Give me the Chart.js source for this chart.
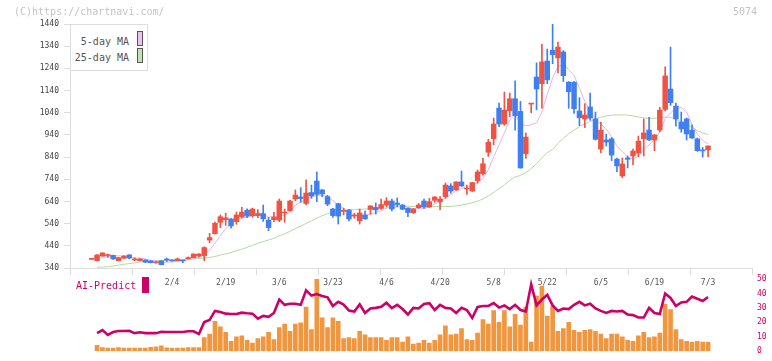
<!DOCTYPE html>
<html><head><meta charset="utf-8">
<script src="https://cdn.jsdelivr.net/npm/chart.js@4/dist/chart.umd.min.js"></script>
<style>
html,body{margin:0;padding:0;background:#fff;}
#wrap{position:relative;width:772px;height:361px;overflow:hidden;font-family:"DejaVu Sans Mono",monospace;}
canvas{position:absolute;left:0;top:0;}
.t{position:absolute;white-space:pre;line-height:1;}
</style></head><body>
<div id="wrap">
<canvas id="cLow" width="772" height="361"></canvas>
<canvas id="cTop" width="772" height="361"></canvas>
<div class="t" style="left:14px;top:7px;font-size:10px;color:#c4c4c4">(C)https://chartnavi.com/</div>
<div class="t" style="left:733px;top:7px;font-size:10px;color:#c4c4c4">5074</div>
<div style="position:absolute;left:70px;top:24px;width:76px;height:45px;border:1px solid #ddd;background:#fff;">
  <div class="t" style="right:18px;top:12px;font-size:10px;color:#555">5-day MA</div>
  <div style="position:absolute;left:66px;top:6px;width:4px;height:13px;background:#f0c0f0;border:1px solid #555"></div>
  <div class="t" style="right:18px;top:28px;font-size:10px;color:#555">25-day MA</div>
  <div style="position:absolute;left:66px;top:23px;width:4px;height:13px;background:#c2e2b2;border:1px solid #555"></div>
</div>
<div class="t" style="left:76px;top:281px;font-size:10px;color:#cc0066">AI-Predict</div>
<div style="position:absolute;left:142px;top:277px;width:7px;height:16px;background:#cc0066"></div>
</div>
<script>
// ---- data ----
const tickIndex  = [15,25,35,45,55,65,75,85,95,105,115];
const tickLabels = ['2/4','2/19','3/6','3/23','4/6','4/20','5/8','5/22','6/5','6/19','7/3'];

const OPEN = [379,373,394,396,397,373,384,399,376,373,
376,372,363,372,377,376,373,375,382,387,
394,396,466,495,546,558,561,549,571,601,
576,576,585,556,558,556,588,598,651,660,
631,680,732,692,662,606,630,595,601,574,
553,579,604,613,609,624,642,633,624,609,
589,612,642,615,645,639,662,710,692,728,
696,687,734,765,862,923,1061,989,1049,1103,
1046,855,1079,1201,1171,1273,1322,1287,1314,1178,
1178,1048,1012,1066,1012,876,917,922,831,755,
836,845,858,922,962,917,962,1055,1147,1070,
998,1012,962,922,872,873];
const HIGH = [380,400,409,403,398,388,396,400,387,382,
378,373,369,373,385,377,385,376,390,404,
405,436,496,547,579,587,563,592,614,607,
610,603,624,568,591,651,606,645,692,702,
737,714,773,693,668,609,632,609,605,586,
606,597,621,633,651,657,651,656,626,611,
608,631,651,654,662,662,723,720,730,777,
714,727,782,834,920,1016,1084,1133,1129,1184,
1091,949,1080,1265,1350,1327,1440,1359,1320,1180,
1180,1108,1081,1129,1043,998,944,928,836,836,
845,876,935,1012,1019,942,1064,1247,1336,1084,
1043,1016,985,926,883,891];
const LOW = [378,372,393,388,379,372,382,381,373,372,
364,363,362,354,369,371,372,364,380,386,
389,373,454,493,522,532,520,537,565,567,
569,567,550,508,549,549,546,596,643,636,
624,654,639,662,621,568,538,579,552,564,
538,560,583,583,604,616,597,616,603,571,
586,609,609,613,636,603,654,677,690,707,
672,685,722,759,843,896,977,983,1022,961,
790,834,1040,1053,1060,1171,1261,1220,1181,1060,
1037,982,973,1007,917,860,890,824,774,747,
791,806,842,845,915,869,954,1048,1073,979,
952,917,924,866,840,842];
const CLOSE = [379,399,408,398,381,387,394,385,380,381,
366,364,368,355,376,372,381,372,387,403,
403,432,477,542,571,566,530,579,592,574,
606,585,562,522,570,642,591,642,669,653,
678,665,672,674,628,576,574,598,561,578,
588,561,620,602,626,642,606,626,605,590,
606,624,615,639,660,651,714,687,728,710,
699,725,773,810,907,989,989,1052,1103,1027,
791,930,1079,1147,1269,1188,1302,1336,1207,1135,
1058,1018,1030,1016,920,962,908,849,800,809,
830,867,912,949,917,940,1052,1206,1085,1012,
967,944,926,869,868,890];
const MA5 = [null,386,389,391,393,395,394,389,385,385,
381,375,372,367,366,367,370,371,378,383,
389,399,420,452,485,518,537,558,567,568,
576,587,584,570,569,576,577,593,623,639,
647,661,667,668,663,643,625,610,587,577,
580,577,582,590,599,610,619,620,621,614,
607,610,608,615,629,638,656,670,688,698,
708,710,727,743,783,841,894,949,1008,1032,
992,981,986,995,1043,1123,1197,1248,1260,1234,
1208,1151,1090,1051,1008,989,967,931,888,866,
839,831,844,873,895,917,954,1013,1040,1059,
1064,1043,987,944,915,899];
const MA25 = [null,343,344,346,349,353,357,360,363,367,
370,372,373,374,375,375,376,377,379,382,
383,385,387,392,398,404,410,417,425,433,
442,451,459,466,474,485,494,505,518,529,
541,552,564,576,585,592,598,602,603,603,
604,606,607,608,610,611,612,615,618,619,
617,619,618,616,617,616,617,618,620,624,
628,634,641,651,665,681,698,715,735,751,
757,770,788,810,837,860,875,902,925,945,
962,977,990,1001,1012,1020,1026,1029,1030,1030,
1029,1026,1021,1017,1014,1015,1018,1020,1019,1010,
1000,988,973,959,949,942];
const VOLUME = [null,4,2.5,2.1,2.1,2.5,2.1,2.1,2.1,2.1,
2.1,2.7,3.1,3.8,2.3,2.1,2.1,2.1,2.5,2.5,
2.5,9.4,11.9,20.6,16.9,13.1,6.9,10,10.6,7.5,
5.6,8.8,10,13.1,8.1,16.3,18.8,13.8,18.8,19.6,
30.6,15,50,23.1,16.3,23.1,20.6,8.8,9.4,8.8,
13.8,11.3,9.4,9.4,9.4,7.5,9.4,9.4,6.3,10,
5,5.6,7.5,5.6,7.5,11.3,17.5,11.3,11.9,15.6,
8.1,7.5,12.5,21.9,18.8,28.1,20,28.1,16.9,25.6,
18.1,30.6,6.3,38.1,45,24.4,31.3,13.8,15.6,20,
14.4,13.1,14.4,15,13.8,11.9,8.8,11.9,11.9,10,
7.5,6.9,10.6,13.1,9.4,10,12.5,32.5,28.8,15,
8.1,6.9,6.3,6.9,6.3,6.3];
const AI_PREDICT = [null,12.5,14.6,11.3,13.3,14,14,14.2,12.5,13.1,
12.5,12.5,12.5,13.5,13.3,13.3,13.3,13.3,13.8,13.8,
11.9,20.2,21.7,27.9,27.1,26,25.8,25.8,26.7,26.3,
26,22.5,24.4,23.8,26.5,35.8,32.1,32.9,32.9,32.1,
42.1,38.5,39.6,38.3,37.3,31.3,34.2,32.3,28.1,27.5,
32.5,26.5,29.6,30,30.8,33.5,29.8,32.1,29.2,25.4,
30,29.6,32.7,33.3,28.5,32.1,30,29.6,26.5,30,
28.5,23,30.6,31.3,31.3,33.3,30.2,31.7,29.2,32.1,
28.5,27.5,46.3,31.7,35.8,39,31.7,27.9,29.6,29.2,
32.1,34.2,31.7,32.9,29.6,27.9,26.5,27.9,27.5,27.9,
25.4,25,23.3,23.3,30,26.5,25.8,40,36.9,31.3,
33.8,34.2,37.9,36.3,34.8,37.5];

// ---- styling ----
const FONT = '"DejaVu Sans Mono", monospace';
const RED = '#ef5343', BLUE = '#3f7ff0';
const X_MIN = -4.05, X_MAX = 123.2;

const candleColors = OPEN.map((o,i) => CLOSE[i] >= o ? RED : BLUE);
const bodies = OPEN.map((o,i) => ({x:i, y:[Math.min(o,CLOSE[i]), Math.max(o,CLOSE[i])]}));
const wicks  = OPEN.map((o,i) => ({x:i, y:[LOW[i], HIGH[i]]}));
const pts = arr => arr.map((v,i) => ({x:i, y:v}));

function buildXTicks(scale){
  const ticks = [];
  for (let k=0; k<=11; k++) ticks.push({value: X_MIN + k*(X_MAX-X_MIN)/11, mark:true, lbl:''});
  tickIndex.forEach((v,j) => ticks.push({value:v, mark:false, lbl:tickLabels[j]}));
  ticks.sort((a,b)=>a.value-b.value);
  scale.ticks = ticks;
}

new Chart(document.getElementById('cTop'), {
  type: 'bar',
  data: { datasets: [
    {type:'bar', data:bodies, backgroundColor:candleColors, barThickness:4.8, minBarLength:1, grouped:false, order:0},
    {type:'bar', data:wicks, backgroundColor:candleColors, barThickness:1, grouped:false, order:1},
    {type:'line', data:pts(MA5), borderColor:'#e9b2ec', borderWidth:1, pointRadius:0, order:2},
    {type:'line', data:pts(MA25), borderColor:'#b2dca0', borderWidth:1, pointRadius:0, order:3}
  ]},
  options: {
    responsive:false, animation:false,
    layout:{padding:{top:24, right:20, left:0, bottom:0}},
    plugins:{legend:{display:false}, tooltip:{enabled:false}},
    scales:{
      x:{type:'linear', min:X_MIN, max:X_MAX, offset:false,
         afterBuildTicks: buildXTicks,
         afterFit: s => { s.height = 93; },
         ticks:{autoSkip:false, maxRotation:0, padding:3, color:'#555', font:{family:FONT, size:8},
                callback:(v,i,t) => (t[i] && t[i].lbl) || ''},
         grid:{offset:false, drawOnChartArea:false, tickLength:7,
               tickColor: c => (c.tick && c.tick.mark) ? '#dddddd' : 'rgba(0,0,0,0)'},
         border:{color:'#dddddd'}},
      y:{min:340, max:1440, afterFit: s => { s.width = 70; },
         ticks:{stepSize:100, padding:5, color:'#444', font:{family:FONT, size:8},
                callback: v => String(v)},
         grid:{drawOnChartArea:false, tickLength:6, color:'#dddddd'},
         border:{color:'#dddddd'}}
    }
  }
});

new Chart(document.getElementById('cLow'), {
  type: 'bar',
  data: { datasets: [
    {type:'line', data:pts(AI_PREDICT), yAxisID:'yAI', borderColor:'#cc0066', borderWidth:2.6, pointRadius:0, order:0},
    {type:'bar', data:pts(VOLUME), yAxisID:'yVol', backgroundColor:'#f0963e', barThickness:4, order:1}
  ]},
  options: {
    responsive:false, animation:false,
    layout:{padding:{top:279, right:0, left:70, bottom:2}},
    plugins:{legend:{display:false}, tooltip:{enabled:false}},
    scales:{
      x:{type:'linear', min:X_MIN, max:X_MAX, offset:false, display:false},
      yVol:{position:'left', min:0, max:50, display:false},
      yAI:{position:'right', min:0, max:50, afterFit: s => { s.width = 20; },
           ticks:{stepSize:10, padding:5, color:'#cc0066', font:{family:FONT, size:8}},
           grid:{display:false, drawTicks:false}, border:{display:false}}
    }
  }
});
</script>
</body></html>
